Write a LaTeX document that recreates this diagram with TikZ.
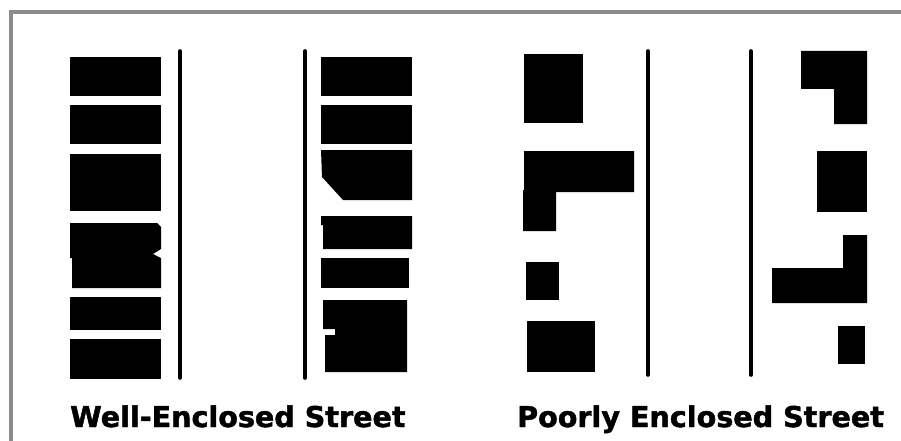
\documentclass[tikz,border=0pt]{standalone}
\usepackage{fontspec}
\newfontfamily\labelfont[FakeBold=1.6]{DejaVu Sans Bold}
\usepackage{tikz}
\definecolor{frameGray}{HTML}{8C8C8C}

\begin{document}
\begin{tikzpicture}[
  x=1pt, y=-1pt,
  block/.style={fill=black},
  street/.style={line width=3.6pt, line cap=round},
  frameline/.style={frameGray, line width=4pt},
  caption/.style={font=\labelfont\fontsize{28.6}{30}\selectfont,
    anchor=base west, inner sep=0pt},
]
\useasboundingbox (0, 0) rectangle (901, 441);

% Frame (top and left only)
\draw[frameline] (11, 441) -- (11, 12.5) -- (901, 12.5);

% ---------------- Well-enclosed street ----------------
% Left row of blocks
\foreach \ya/\yb in {57/96, 105/144, 154/211, 297/330, 339/379} {
  \fill[block] (70, \ya) rectangle (161, \yb);
}
\fill[block] (70, 223) -- (157, 223) -- (161, 227) -- (161, 249) -- (153, 254)
  -- (161, 258) -- (161, 288) -- (72, 288) -- (72, 258) -- (70, 258) -- cycle;

% Street edges
\coordinate (wa) at (180, 51);  \coordinate (wb) at (180, 378);
\coordinate (wc) at (305, 51);  \coordinate (wd) at (305, 378);
\draw[street] (wa) -- (wb);
\draw[street] (wc) -- (wd);

% Right row of blocks
\foreach \ya/\yb in {57/96, 105/144} {
  \fill[block] (321, \ya) rectangle (412, \yb);
}
\fill[block] (321, 150) -- (412, 150) -- (412, 200) -- (343, 200) -- (322, 177) -- cycle;
\fill[block] (321, 216) -- (412, 216) -- (412, 249) -- (323, 249) -- (323, 225)
  -- (321, 225) -- cycle;
\fill[block] (321, 258) rectangle (409, 288);
\fill[block] (323, 300) -- (407, 300) -- (407, 372) -- (325, 372) -- (325, 335)
  -- (335, 335) -- (335, 329) -- (323, 329) -- cycle;

\node[caption] (wellLabel) at (70, 427) {Well-Enclosed Street};

% ---------------- Poorly enclosed street ----------------
% Left row of blocks
\fill[block] (524, 54) rectangle (583, 123);
\fill[block] (524, 151) -- (634, 151) -- (634, 192) -- (556, 192) -- (556, 231)
  -- (523, 231) -- (523, 190) -- (524, 190) -- cycle;
\fill[block] (526, 262) rectangle (559, 300);
\fill[block] (527, 321) rectangle (595, 372);

% Street edges
\coordinate (pa) at (648, 51);  \coordinate (pb) at (648, 375);
\coordinate (pc) at (751, 51);  \coordinate (pd) at (751, 375);
\draw[street] (pa) -- (pb);
\draw[street] (pc) -- (pd);

% Right row of blocks
\fill[block] (801, 51) -- (867, 51) -- (867, 124) -- (834, 124) -- (834, 89)
  -- (801, 89) -- cycle;
\fill[block] (817, 151) rectangle (867, 212);
\fill[block] (843, 235) -- (867, 235) -- (867, 303) -- (772, 303) -- (772, 268)
  -- (843, 268) -- cycle;
\fill[block] (838, 326) rectangle (865, 364);

\node[caption] (poorLabel) at (517, 427) {Poorly Enclosed Street};
\end{tikzpicture}
\end{document}
